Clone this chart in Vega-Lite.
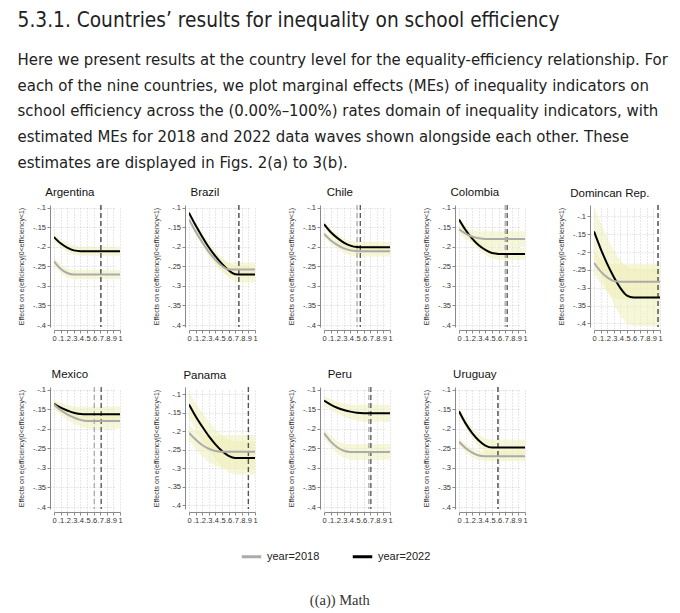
{
  "$schema": "https://vega.github.io/schema/vega-lite/v6.json",
  "background": "white",
  "padding": {"left": 17, "top": 10, "right": 5, "bottom": 5},
  "title": {
    "text": "5.3.1. Countries’ results for inequality on school efficiency",
    "subtitle": [
      "Here we present results at the country level for the equality-efficiency relationship. For",
      "each of the nine countries, we plot marginal effects (MEs) of inequality indicators on",
      "school efficiency across the (0.00%–100%) rates domain of inequality indicators, with",
      "estimated MEs for 2018 and 2022 data waves shown alongside each other. These",
      "estimates are displayed in Figs. 2(a) to 3(b)."
    ],
    "anchor": "start",
    "frame": "bounds",
    "font": "Liberation Sans Narrow, DejaVu Sans Condensed, sans-serif",
    "fontSize": 20.7,
    "fontWeight": "normal",
    "color": "#222222",
    "subtitleFont": "Liberation Sans Narrow, DejaVu Sans Condensed, sans-serif",
    "subtitleFontSize": 16.6,
    "subtitleColor": "#222222",
    "subtitleLineHeight": 25.7,
    "subtitlePadding": 20,
    "offset": 15
  },
  "datasets": {
    "curves": [
      {"c":"Argentina","yr":"year=2022","x":0,"y":-0.175,"lo":-0.185,"hi":-0.165},
      {"c":"Argentina","yr":"year=2022","x":0.1,"y":-0.191,"lo":-0.2015,"hi":-0.1805},
      {"c":"Argentina","yr":"year=2022","x":0.2,"y":-0.202,"lo":-0.213,"hi":-0.191},
      {"c":"Argentina","yr":"year=2022","x":0.3,"y":-0.209,"lo":-0.2205,"hi":-0.1975},
      {"c":"Argentina","yr":"year=2022","x":0.4,"y":-0.211,"lo":-0.223,"hi":-0.199},
      {"c":"Argentina","yr":"year=2022","x":0.5,"y":-0.211,"lo":-0.223,"hi":-0.199},
      {"c":"Argentina","yr":"year=2022","x":0.6,"y":-0.211,"lo":-0.223,"hi":-0.199},
      {"c":"Argentina","yr":"year=2022","x":0.7,"y":-0.211,"lo":-0.223,"hi":-0.199},
      {"c":"Argentina","yr":"year=2022","x":0.8,"y":-0.211,"lo":-0.223,"hi":-0.199},
      {"c":"Argentina","yr":"year=2022","x":0.9,"y":-0.211,"lo":-0.223,"hi":-0.199},
      {"c":"Argentina","yr":"year=2022","x":1,"y":-0.211,"lo":-0.223,"hi":-0.199},
      {"c":"Argentina","yr":"year=2018","x":0,"y":-0.237,"lo":-0.247,"hi":-0.227},
      {"c":"Argentina","yr":"year=2018","x":0.1,"y":-0.256,"lo":-0.267,"hi":-0.245},
      {"c":"Argentina","yr":"year=2018","x":0.2,"y":-0.267,"lo":-0.278,"hi":-0.256},
      {"c":"Argentina","yr":"year=2018","x":0.3,"y":-0.271,"lo":-0.283,"hi":-0.259},
      {"c":"Argentina","yr":"year=2018","x":0.4,"y":-0.271,"lo":-0.283,"hi":-0.259},
      {"c":"Argentina","yr":"year=2018","x":0.5,"y":-0.271,"lo":-0.283,"hi":-0.259},
      {"c":"Argentina","yr":"year=2018","x":0.6,"y":-0.271,"lo":-0.283,"hi":-0.259},
      {"c":"Argentina","yr":"year=2018","x":0.7,"y":-0.271,"lo":-0.283,"hi":-0.259},
      {"c":"Argentina","yr":"year=2018","x":0.8,"y":-0.271,"lo":-0.283,"hi":-0.259},
      {"c":"Argentina","yr":"year=2018","x":0.9,"y":-0.271,"lo":-0.283,"hi":-0.259},
      {"c":"Argentina","yr":"year=2018","x":1,"y":-0.271,"lo":-0.283,"hi":-0.259},

      {"c":"Brazil","yr":"year=2022","x":0,"y":-0.113,"lo":-0.119,"hi":-0.107},
      {"c":"Brazil","yr":"year=2022","x":0.1,"y":-0.145,"lo":-0.153,"hi":-0.137},
      {"c":"Brazil","yr":"year=2022","x":0.2,"y":-0.174,"lo":-0.184,"hi":-0.164},
      {"c":"Brazil","yr":"year=2022","x":0.3,"y":-0.201,"lo":-0.213,"hi":-0.189},
      {"c":"Brazil","yr":"year=2022","x":0.4,"y":-0.224,"lo":-0.238,"hi":-0.21},
      {"c":"Brazil","yr":"year=2022","x":0.5,"y":-0.244,"lo":-0.26,"hi":-0.228},
      {"c":"Brazil","yr":"year=2022","x":0.6,"y":-0.26,"lo":-0.278,"hi":-0.242},
      {"c":"Brazil","yr":"year=2022","x":0.7,"y":-0.27,"lo":-0.29,"hi":-0.25},
      {"c":"Brazil","yr":"year=2022","x":0.8,"y":-0.271,"lo":-0.291,"hi":-0.251},
      {"c":"Brazil","yr":"year=2022","x":0.9,"y":-0.271,"lo":-0.291,"hi":-0.251},
      {"c":"Brazil","yr":"year=2022","x":1,"y":-0.271,"lo":-0.291,"hi":-0.251},
      {"c":"Brazil","yr":"year=2018","x":0,"y":-0.13,"lo":-0.136,"hi":-0.124},
      {"c":"Brazil","yr":"year=2018","x":0.1,"y":-0.161,"lo":-0.169,"hi":-0.153},
      {"c":"Brazil","yr":"year=2018","x":0.2,"y":-0.188,"lo":-0.198,"hi":-0.178},
      {"c":"Brazil","yr":"year=2018","x":0.3,"y":-0.213,"lo":-0.225,"hi":-0.201},
      {"c":"Brazil","yr":"year=2018","x":0.4,"y":-0.233,"lo":-0.247,"hi":-0.219},
      {"c":"Brazil","yr":"year=2018","x":0.5,"y":-0.249,"lo":-0.265,"hi":-0.233},
      {"c":"Brazil","yr":"year=2018","x":0.6,"y":-0.258,"lo":-0.276,"hi":-0.24},
      {"c":"Brazil","yr":"year=2018","x":0.7,"y":-0.258,"lo":-0.276,"hi":-0.24},
      {"c":"Brazil","yr":"year=2018","x":0.8,"y":-0.258,"lo":-0.276,"hi":-0.24},
      {"c":"Brazil","yr":"year=2018","x":0.9,"y":-0.258,"lo":-0.276,"hi":-0.24},
      {"c":"Brazil","yr":"year=2018","x":1,"y":-0.258,"lo":-0.276,"hi":-0.24},

      {"c":"Chile","yr":"year=2022","x":0,"y":-0.142,"lo":-0.15,"hi":-0.134},
      {"c":"Chile","yr":"year=2022","x":0.1,"y":-0.162,"lo":-0.171,"hi":-0.153},
      {"c":"Chile","yr":"year=2022","x":0.2,"y":-0.177,"lo":-0.187,"hi":-0.167},
      {"c":"Chile","yr":"year=2022","x":0.3,"y":-0.189,"lo":-0.2,"hi":-0.178},
      {"c":"Chile","yr":"year=2022","x":0.4,"y":-0.197,"lo":-0.209,"hi":-0.185},
      {"c":"Chile","yr":"year=2022","x":0.5,"y":-0.2005,"lo":-0.214,"hi":-0.187},
      {"c":"Chile","yr":"year=2022","x":0.6,"y":-0.201,"lo":-0.215,"hi":-0.187},
      {"c":"Chile","yr":"year=2022","x":0.7,"y":-0.201,"lo":-0.215,"hi":-0.187},
      {"c":"Chile","yr":"year=2022","x":0.8,"y":-0.201,"lo":-0.215,"hi":-0.187},
      {"c":"Chile","yr":"year=2022","x":0.9,"y":-0.201,"lo":-0.215,"hi":-0.187},
      {"c":"Chile","yr":"year=2022","x":1,"y":-0.201,"lo":-0.215,"hi":-0.187},
      {"c":"Chile","yr":"year=2018","x":0,"y":-0.167,"lo":-0.175,"hi":-0.159},
      {"c":"Chile","yr":"year=2018","x":0.1,"y":-0.183,"lo":-0.192,"hi":-0.174},
      {"c":"Chile","yr":"year=2018","x":0.2,"y":-0.195,"lo":-0.205,"hi":-0.185},
      {"c":"Chile","yr":"year=2018","x":0.3,"y":-0.204,"lo":-0.216,"hi":-0.192},
      {"c":"Chile","yr":"year=2018","x":0.4,"y":-0.209,"lo":-0.222,"hi":-0.196},
      {"c":"Chile","yr":"year=2018","x":0.5,"y":-0.211,"lo":-0.225,"hi":-0.197},
      {"c":"Chile","yr":"year=2018","x":0.6,"y":-0.211,"lo":-0.225,"hi":-0.197},
      {"c":"Chile","yr":"year=2018","x":0.7,"y":-0.211,"lo":-0.225,"hi":-0.197},
      {"c":"Chile","yr":"year=2018","x":0.8,"y":-0.211,"lo":-0.225,"hi":-0.197},
      {"c":"Chile","yr":"year=2018","x":0.9,"y":-0.211,"lo":-0.225,"hi":-0.197},
      {"c":"Chile","yr":"year=2018","x":1,"y":-0.211,"lo":-0.225,"hi":-0.197},

      {"c":"Colombia","yr":"year=2022","x":0,"y":-0.13,"lo":-0.138,"hi":-0.122},
      {"c":"Colombia","yr":"year=2022","x":0.1,"y":-0.157,"lo":-0.166,"hi":-0.148},
      {"c":"Colombia","yr":"year=2022","x":0.2,"y":-0.179,"lo":-0.189,"hi":-0.169},
      {"c":"Colombia","yr":"year=2022","x":0.3,"y":-0.196,"lo":-0.208,"hi":-0.185},
      {"c":"Colombia","yr":"year=2022","x":0.4,"y":-0.208,"lo":-0.221,"hi":-0.195},
      {"c":"Colombia","yr":"year=2022","x":0.5,"y":-0.216,"lo":-0.23,"hi":-0.202},
      {"c":"Colombia","yr":"year=2022","x":0.6,"y":-0.218,"lo":-0.233,"hi":-0.203},
      {"c":"Colombia","yr":"year=2022","x":0.7,"y":-0.218,"lo":-0.233,"hi":-0.203},
      {"c":"Colombia","yr":"year=2022","x":0.8,"y":-0.218,"lo":-0.233,"hi":-0.203},
      {"c":"Colombia","yr":"year=2022","x":0.9,"y":-0.218,"lo":-0.233,"hi":-0.203},
      {"c":"Colombia","yr":"year=2022","x":1,"y":-0.218,"lo":-0.233,"hi":-0.203},
      {"c":"Colombia","yr":"year=2018","x":0,"y":-0.155,"lo":-0.165,"hi":-0.145},
      {"c":"Colombia","yr":"year=2018","x":0.1,"y":-0.166,"lo":-0.179,"hi":-0.154},
      {"c":"Colombia","yr":"year=2018","x":0.2,"y":-0.174,"lo":-0.189,"hi":-0.159},
      {"c":"Colombia","yr":"year=2018","x":0.3,"y":-0.178,"lo":-0.196,"hi":-0.161},
      {"c":"Colombia","yr":"year=2018","x":0.4,"y":-0.18,"lo":-0.2,"hi":-0.16},
      {"c":"Colombia","yr":"year=2018","x":0.5,"y":-0.18,"lo":-0.2,"hi":-0.16},
      {"c":"Colombia","yr":"year=2018","x":0.6,"y":-0.18,"lo":-0.2,"hi":-0.16},
      {"c":"Colombia","yr":"year=2018","x":0.7,"y":-0.18,"lo":-0.2,"hi":-0.16},
      {"c":"Colombia","yr":"year=2018","x":0.8,"y":-0.18,"lo":-0.2,"hi":-0.16},
      {"c":"Colombia","yr":"year=2018","x":0.9,"y":-0.18,"lo":-0.2,"hi":-0.16},
      {"c":"Colombia","yr":"year=2018","x":1,"y":-0.18,"lo":-0.2,"hi":-0.16},

      {"c":"Dominican Rep.","yr":"year=2022","x":0,"y":-0.142,"lo":-0.212,"hi":-0.072},
      {"c":"Dominican Rep.","yr":"year=2022","x":0.1,"y":-0.19,"lo":-0.262,"hi":-0.118},
      {"c":"Dominican Rep.","yr":"year=2022","x":0.2,"y":-0.233,"lo":-0.307,"hi":-0.159},
      {"c":"Dominican Rep.","yr":"year=2022","x":0.3,"y":-0.27,"lo":-0.346,"hi":-0.195},
      {"c":"Dominican Rep.","yr":"year=2022","x":0.4,"y":-0.301,"lo":-0.378,"hi":-0.224},
      {"c":"Dominican Rep.","yr":"year=2022","x":0.5,"y":-0.322,"lo":-0.401,"hi":-0.243},
      {"c":"Dominican Rep.","yr":"year=2022","x":0.6,"y":-0.327,"lo":-0.407,"hi":-0.247},
      {"c":"Dominican Rep.","yr":"year=2022","x":0.7,"y":-0.327,"lo":-0.407,"hi":-0.247},
      {"c":"Dominican Rep.","yr":"year=2022","x":0.8,"y":-0.327,"lo":-0.407,"hi":-0.247},
      {"c":"Dominican Rep.","yr":"year=2022","x":0.9,"y":-0.327,"lo":-0.407,"hi":-0.247},
      {"c":"Dominican Rep.","yr":"year=2022","x":1,"y":-0.327,"lo":-0.407,"hi":-0.247},
      {"c":"Dominican Rep.","yr":"year=2018","x":0,"y":-0.23,"lo":-0.26,"hi":-0.2},
      {"c":"Dominican Rep.","yr":"year=2018","x":0.1,"y":-0.254,"lo":-0.289,"hi":-0.219},
      {"c":"Dominican Rep.","yr":"year=2018","x":0.2,"y":-0.271,"lo":-0.312,"hi":-0.231},
      {"c":"Dominican Rep.","yr":"year=2018","x":0.3,"y":-0.281,"lo":-0.327,"hi":-0.235},
      {"c":"Dominican Rep.","yr":"year=2018","x":0.4,"y":-0.283,"lo":-0.333,"hi":-0.233},
      {"c":"Dominican Rep.","yr":"year=2018","x":0.5,"y":-0.283,"lo":-0.333,"hi":-0.233},
      {"c":"Dominican Rep.","yr":"year=2018","x":0.6,"y":-0.283,"lo":-0.333,"hi":-0.233},
      {"c":"Dominican Rep.","yr":"year=2018","x":0.7,"y":-0.283,"lo":-0.333,"hi":-0.233},
      {"c":"Dominican Rep.","yr":"year=2018","x":0.8,"y":-0.283,"lo":-0.333,"hi":-0.233},
      {"c":"Dominican Rep.","yr":"year=2018","x":0.9,"y":-0.283,"lo":-0.333,"hi":-0.233},
      {"c":"Dominican Rep.","yr":"year=2018","x":1,"y":-0.283,"lo":-0.333,"hi":-0.233},

      {"c":"Mexico","yr":"year=2022","x":0,"y":-0.136,"lo":-0.146,"hi":-0.126},
      {"c":"Mexico","yr":"year=2022","x":0.1,"y":-0.146,"lo":-0.158,"hi":-0.134},
      {"c":"Mexico","yr":"year=2022","x":0.2,"y":-0.153,"lo":-0.167,"hi":-0.139},
      {"c":"Mexico","yr":"year=2022","x":0.3,"y":-0.159,"lo":-0.175,"hi":-0.143},
      {"c":"Mexico","yr":"year=2022","x":0.4,"y":-0.162,"lo":-0.18,"hi":-0.144},
      {"c":"Mexico","yr":"year=2022","x":0.5,"y":-0.163,"lo":-0.183,"hi":-0.143},
      {"c":"Mexico","yr":"year=2022","x":0.6,"y":-0.163,"lo":-0.183,"hi":-0.143},
      {"c":"Mexico","yr":"year=2022","x":0.7,"y":-0.163,"lo":-0.183,"hi":-0.143},
      {"c":"Mexico","yr":"year=2022","x":0.8,"y":-0.163,"lo":-0.183,"hi":-0.143},
      {"c":"Mexico","yr":"year=2022","x":0.9,"y":-0.163,"lo":-0.183,"hi":-0.143},
      {"c":"Mexico","yr":"year=2022","x":1,"y":-0.163,"lo":-0.183,"hi":-0.143},
      {"c":"Mexico","yr":"year=2018","x":0,"y":-0.138,"lo":-0.148,"hi":-0.128},
      {"c":"Mexico","yr":"year=2018","x":0.1,"y":-0.152,"lo":-0.164,"hi":-0.14},
      {"c":"Mexico","yr":"year=2018","x":0.2,"y":-0.163,"lo":-0.177,"hi":-0.149},
      {"c":"Mexico","yr":"year=2018","x":0.3,"y":-0.171,"lo":-0.187,"hi":-0.156},
      {"c":"Mexico","yr":"year=2018","x":0.4,"y":-0.177,"lo":-0.194,"hi":-0.16},
      {"c":"Mexico","yr":"year=2018","x":0.5,"y":-0.18,"lo":-0.199,"hi":-0.161},
      {"c":"Mexico","yr":"year=2018","x":0.6,"y":-0.18,"lo":-0.2,"hi":-0.16},
      {"c":"Mexico","yr":"year=2018","x":0.7,"y":-0.18,"lo":-0.2,"hi":-0.16},
      {"c":"Mexico","yr":"year=2018","x":0.8,"y":-0.18,"lo":-0.2,"hi":-0.16},
      {"c":"Mexico","yr":"year=2018","x":0.9,"y":-0.18,"lo":-0.2,"hi":-0.16},
      {"c":"Mexico","yr":"year=2018","x":1,"y":-0.18,"lo":-0.2,"hi":-0.16},

      {"c":"Panama","yr":"year=2022","x":0,"y":-0.127,"lo":-0.162,"hi":-0.092},
      {"c":"Panama","yr":"year=2022","x":0.1,"y":-0.159,"lo":-0.195,"hi":-0.123},
      {"c":"Panama","yr":"year=2022","x":0.2,"y":-0.187,"lo":-0.225,"hi":-0.149},
      {"c":"Panama","yr":"year=2022","x":0.3,"y":-0.213,"lo":-0.252,"hi":-0.174},
      {"c":"Panama","yr":"year=2022","x":0.4,"y":-0.235,"lo":-0.276,"hi":-0.194},
      {"c":"Panama","yr":"year=2022","x":0.5,"y":-0.253,"lo":-0.295,"hi":-0.211},
      {"c":"Panama","yr":"year=2022","x":0.6,"y":-0.266,"lo":-0.31,"hi":-0.222},
      {"c":"Panama","yr":"year=2022","x":0.7,"y":-0.272,"lo":-0.317,"hi":-0.227},
      {"c":"Panama","yr":"year=2022","x":0.8,"y":-0.272,"lo":-0.317,"hi":-0.227},
      {"c":"Panama","yr":"year=2022","x":0.9,"y":-0.272,"lo":-0.317,"hi":-0.227},
      {"c":"Panama","yr":"year=2022","x":1,"y":-0.272,"lo":-0.317,"hi":-0.227},
      {"c":"Panama","yr":"year=2018","x":0,"y":-0.204,"lo":-0.224,"hi":-0.184},
      {"c":"Panama","yr":"year=2018","x":0.1,"y":-0.222,"lo":-0.247,"hi":-0.197},
      {"c":"Panama","yr":"year=2018","x":0.2,"y":-0.237,"lo":-0.267,"hi":-0.207},
      {"c":"Panama","yr":"year=2018","x":0.3,"y":-0.247,"lo":-0.282,"hi":-0.212},
      {"c":"Panama","yr":"year=2018","x":0.4,"y":-0.253,"lo":-0.293,"hi":-0.213},
      {"c":"Panama","yr":"year=2018","x":0.5,"y":-0.255,"lo":-0.3,"hi":-0.21},
      {"c":"Panama","yr":"year=2018","x":0.6,"y":-0.255,"lo":-0.3,"hi":-0.21},
      {"c":"Panama","yr":"year=2018","x":0.7,"y":-0.255,"lo":-0.3,"hi":-0.21},
      {"c":"Panama","yr":"year=2018","x":0.8,"y":-0.255,"lo":-0.3,"hi":-0.21},
      {"c":"Panama","yr":"year=2018","x":0.9,"y":-0.255,"lo":-0.3,"hi":-0.21},
      {"c":"Panama","yr":"year=2018","x":1,"y":-0.255,"lo":-0.3,"hi":-0.21},

      {"c":"Peru","yr":"year=2022","x":0,"y":-0.128,"lo":-0.14,"hi":-0.116},
      {"c":"Peru","yr":"year=2022","x":0.1,"y":-0.138,"lo":-0.152,"hi":-0.124},
      {"c":"Peru","yr":"year=2022","x":0.2,"y":-0.146,"lo":-0.161,"hi":-0.131},
      {"c":"Peru","yr":"year=2022","x":0.3,"y":-0.152,"lo":-0.169,"hi":-0.135},
      {"c":"Peru","yr":"year=2022","x":0.4,"y":-0.156,"lo":-0.175,"hi":-0.137},
      {"c":"Peru","yr":"year=2022","x":0.5,"y":-0.159,"lo":-0.179,"hi":-0.139},
      {"c":"Peru","yr":"year=2022","x":0.6,"y":-0.16,"lo":-0.182,"hi":-0.138},
      {"c":"Peru","yr":"year=2022","x":0.7,"y":-0.16,"lo":-0.182,"hi":-0.138},
      {"c":"Peru","yr":"year=2022","x":0.8,"y":-0.16,"lo":-0.182,"hi":-0.138},
      {"c":"Peru","yr":"year=2022","x":0.9,"y":-0.16,"lo":-0.182,"hi":-0.138},
      {"c":"Peru","yr":"year=2022","x":1,"y":-0.16,"lo":-0.182,"hi":-0.138},
      {"c":"Peru","yr":"year=2018","x":0,"y":-0.211,"lo":-0.223,"hi":-0.199},
      {"c":"Peru","yr":"year=2018","x":0.1,"y":-0.232,"lo":-0.246,"hi":-0.218},
      {"c":"Peru","yr":"year=2018","x":0.2,"y":-0.247,"lo":-0.263,"hi":-0.231},
      {"c":"Peru","yr":"year=2018","x":0.3,"y":-0.256,"lo":-0.274,"hi":-0.238},
      {"c":"Peru","yr":"year=2018","x":0.4,"y":-0.259,"lo":-0.279,"hi":-0.239},
      {"c":"Peru","yr":"year=2018","x":0.5,"y":-0.259,"lo":-0.279,"hi":-0.239},
      {"c":"Peru","yr":"year=2018","x":0.6,"y":-0.259,"lo":-0.279,"hi":-0.239},
      {"c":"Peru","yr":"year=2018","x":0.7,"y":-0.259,"lo":-0.279,"hi":-0.239},
      {"c":"Peru","yr":"year=2018","x":0.8,"y":-0.259,"lo":-0.279,"hi":-0.239},
      {"c":"Peru","yr":"year=2018","x":0.9,"y":-0.259,"lo":-0.279,"hi":-0.239},
      {"c":"Peru","yr":"year=2018","x":1,"y":-0.259,"lo":-0.279,"hi":-0.239},

      {"c":"Uruguay","yr":"year=2022","x":0,"y":-0.155,"lo":-0.165,"hi":-0.145},
      {"c":"Uruguay","yr":"year=2022","x":0.1,"y":-0.186,"lo":-0.198,"hi":-0.174},
      {"c":"Uruguay","yr":"year=2022","x":0.2,"y":-0.211,"lo":-0.225,"hi":-0.197},
      {"c":"Uruguay","yr":"year=2022","x":0.3,"y":-0.23,"lo":-0.246,"hi":-0.214},
      {"c":"Uruguay","yr":"year=2022","x":0.4,"y":-0.243,"lo":-0.261,"hi":-0.225},
      {"c":"Uruguay","yr":"year=2022","x":0.5,"y":-0.248,"lo":-0.268,"hi":-0.228},
      {"c":"Uruguay","yr":"year=2022","x":0.6,"y":-0.248,"lo":-0.268,"hi":-0.228},
      {"c":"Uruguay","yr":"year=2022","x":0.7,"y":-0.248,"lo":-0.268,"hi":-0.228},
      {"c":"Uruguay","yr":"year=2022","x":0.8,"y":-0.248,"lo":-0.268,"hi":-0.228},
      {"c":"Uruguay","yr":"year=2022","x":0.9,"y":-0.248,"lo":-0.268,"hi":-0.228},
      {"c":"Uruguay","yr":"year=2022","x":1,"y":-0.248,"lo":-0.268,"hi":-0.228},
      {"c":"Uruguay","yr":"year=2018","x":0,"y":-0.233,"lo":-0.243,"hi":-0.223},
      {"c":"Uruguay","yr":"year=2018","x":0.1,"y":-0.249,"lo":-0.26,"hi":-0.238},
      {"c":"Uruguay","yr":"year=2018","x":0.2,"y":-0.261,"lo":-0.273,"hi":-0.25},
      {"c":"Uruguay","yr":"year=2018","x":0.3,"y":-0.268,"lo":-0.28,"hi":-0.256},
      {"c":"Uruguay","yr":"year=2018","x":0.4,"y":-0.27,"lo":-0.283,"hi":-0.257},
      {"c":"Uruguay","yr":"year=2018","x":0.5,"y":-0.27,"lo":-0.283,"hi":-0.257},
      {"c":"Uruguay","yr":"year=2018","x":0.6,"y":-0.27,"lo":-0.283,"hi":-0.257},
      {"c":"Uruguay","yr":"year=2018","x":0.7,"y":-0.27,"lo":-0.283,"hi":-0.257},
      {"c":"Uruguay","yr":"year=2018","x":0.8,"y":-0.27,"lo":-0.283,"hi":-0.257},
      {"c":"Uruguay","yr":"year=2018","x":0.9,"y":-0.27,"lo":-0.283,"hi":-0.257},
      {"c":"Uruguay","yr":"year=2018","x":1,"y":-0.27,"lo":-0.283,"hi":-0.257}
    ],
    "cuts": [
      {"c":"Argentina","yr":"year=2018","x":0.71},
      {"c":"Argentina","yr":"year=2022","x":0.71},
      {"c":"Brazil","yr":"year=2018","x":0.755},
      {"c":"Brazil","yr":"year=2022","x":0.755},
      {"c":"Chile","yr":"year=2018","x":0.5},
      {"c":"Chile","yr":"year=2022","x":0.55},
      {"c":"Colombia","yr":"year=2018","x":0.7},
      {"c":"Colombia","yr":"year=2022","x":0.73},
      {"c":"Dominican Rep.","yr":"year=2018","x":0.97},
      {"c":"Dominican Rep.","yr":"year=2022","x":0.97},
      {"c":"Mexico","yr":"year=2018","x":0.61},
      {"c":"Mexico","yr":"year=2022","x":0.715},
      {"c":"Panama","yr":"year=2018","x":0.9},
      {"c":"Panama","yr":"year=2022","x":0.9},
      {"c":"Peru","yr":"year=2018","x":0.68},
      {"c":"Peru","yr":"year=2022","x":0.71},
      {"c":"Uruguay","yr":"year=2018","x":0.59},
      {"c":"Uruguay","yr":"year=2022","x":0.59}
    ]
  },
  "resolve": {"scale": {"color": "independent"}},
  "vconcat": [
    {
      "title": {"text": "((a)) Math", "orient": "bottom", "anchor": "middle", "frame": "bounds", "font": "Liberation Serif", "fontSize": 14.5, "fontWeight": "normal", "color": "#333333", "offset": 31},
      "spacing": 27,
      "resolve": {"scale": {"x": "independent", "y": "independent", "color": "shared"}},
      "vconcat": [
        {
          "spacing": 29,
          "resolve": {"scale": {"x": "independent", "y": "independent", "color": "shared"}},
          "hconcat": [
            {
              "title": "Argentina", "width": 66, "height": 122,
              "data": {"name": "curves"}, "transform": [{"filter": "datum.c == 'Argentina'"}],
              "encoding": {"x": {"field": "x", "type": "quantitative", "scale": {"domain": [0, 1], "nice": false}, "title": null}},
              "layer": [
                {"mark": {"type": "area", "fill": "#efefb8", "opacity": 0.55, "clip": true},
                 "encoding": {"y": {"field": "lo", "type": "quantitative", "scale": {"domain": [-0.405, -0.093], "nice": false, "zero": false}, "title": "Effects on e(efficiency|0<efficiency<1)"}, "y2": {"field": "hi"}, "detail": {"field": "yr"}}},
                {"data": {"name": "cuts"}, "transform": [{"filter": "datum.c == 'Argentina'"}],
                 "mark": {"type": "rule", "strokeDash": [5, 3], "strokeWidth": 1.3},
                 "encoding": {"stroke": {"condition": {"test": "datum.yr == 'year=2018'", "value": "#aaaaaa"}, "value": "#555555"}}},
                {"mark": {"type": "line", "strokeWidth": 2, "interpolate": "monotone", "clip": true},
                 "encoding": {"y": {"field": "y", "type": "quantitative", "scale": {"domain": [-0.405, -0.093], "nice": false, "zero": false}, "title": "Effects on e(efficiency|0<efficiency<1)"},
                   "color": {"field": "yr", "type": "nominal", "title": null, "scale": {"domain": ["year=2018", "year=2022"], "range": ["#ababab", "#000000"]}}}}
              ]
            },
            {
              "title": "Brazil", "width": 66, "height": 122,
              "data": {"name": "curves"}, "transform": [{"filter": "datum.c == 'Brazil'"}],
              "encoding": {"x": {"field": "x", "type": "quantitative", "scale": {"domain": [0, 1], "nice": false}, "title": null}},
              "layer": [
                {"mark": {"type": "area", "fill": "#efefb8", "opacity": 0.55, "clip": true},
                 "encoding": {"y": {"field": "lo", "type": "quantitative", "scale": {"domain": [-0.405, -0.093], "nice": false, "zero": false}, "title": "Effects on e(efficiency|0<efficiency<1)"}, "y2": {"field": "hi"}, "detail": {"field": "yr"}}},
                {"data": {"name": "cuts"}, "transform": [{"filter": "datum.c == 'Brazil'"}],
                 "mark": {"type": "rule", "strokeDash": [5, 3], "strokeWidth": 1.3},
                 "encoding": {"stroke": {"condition": {"test": "datum.yr == 'year=2018'", "value": "#aaaaaa"}, "value": "#555555"}}},
                {"mark": {"type": "line", "strokeWidth": 2, "interpolate": "monotone", "clip": true},
                 "encoding": {"y": {"field": "y", "type": "quantitative", "scale": {"domain": [-0.405, -0.093], "nice": false, "zero": false}, "title": "Effects on e(efficiency|0<efficiency<1)"},
                   "color": {"field": "yr", "type": "nominal", "title": null, "scale": {"domain": ["year=2018", "year=2022"], "range": ["#ababab", "#000000"]}}}}
              ]
            },
            {
              "title": "Chile", "width": 66, "height": 122,
              "data": {"name": "curves"}, "transform": [{"filter": "datum.c == 'Chile'"}],
              "encoding": {"x": {"field": "x", "type": "quantitative", "scale": {"domain": [0, 1], "nice": false}, "title": null}},
              "layer": [
                {"mark": {"type": "area", "fill": "#efefb8", "opacity": 0.55, "clip": true},
                 "encoding": {"y": {"field": "lo", "type": "quantitative", "scale": {"domain": [-0.405, -0.093], "nice": false, "zero": false}, "title": "Effects on e(efficiency|0<efficiency<1)"}, "y2": {"field": "hi"}, "detail": {"field": "yr"}}},
                {"data": {"name": "cuts"}, "transform": [{"filter": "datum.c == 'Chile'"}],
                 "mark": {"type": "rule", "strokeDash": [5, 3], "strokeWidth": 1.3},
                 "encoding": {"stroke": {"condition": {"test": "datum.yr == 'year=2018'", "value": "#aaaaaa"}, "value": "#555555"}}},
                {"mark": {"type": "line", "strokeWidth": 2, "interpolate": "monotone", "clip": true},
                 "encoding": {"y": {"field": "y", "type": "quantitative", "scale": {"domain": [-0.405, -0.093], "nice": false, "zero": false}, "title": "Effects on e(efficiency|0<efficiency<1)"},
                   "color": {"field": "yr", "type": "nominal", "title": null, "scale": {"domain": ["year=2018", "year=2022"], "range": ["#ababab", "#000000"]}}}}
              ]
            },
            {
              "title": "Colombia", "width": 66, "height": 122,
              "data": {"name": "curves"}, "transform": [{"filter": "datum.c == 'Colombia'"}],
              "encoding": {"x": {"field": "x", "type": "quantitative", "scale": {"domain": [0, 1], "nice": false}, "title": null}},
              "layer": [
                {"mark": {"type": "area", "fill": "#efefb8", "opacity": 0.55, "clip": true},
                 "encoding": {"y": {"field": "lo", "type": "quantitative", "scale": {"domain": [-0.405, -0.093], "nice": false, "zero": false}, "title": "Effects on e(efficiency|0<efficiency<1)"}, "y2": {"field": "hi"}, "detail": {"field": "yr"}}},
                {"data": {"name": "cuts"}, "transform": [{"filter": "datum.c == 'Colombia'"}],
                 "mark": {"type": "rule", "strokeDash": [5, 3], "strokeWidth": 1.3},
                 "encoding": {"stroke": {"condition": {"test": "datum.yr == 'year=2018'", "value": "#aaaaaa"}, "value": "#555555"}}},
                {"mark": {"type": "line", "strokeWidth": 2, "interpolate": "monotone", "clip": true},
                 "encoding": {"y": {"field": "y", "type": "quantitative", "scale": {"domain": [-0.405, -0.093], "nice": false, "zero": false}, "title": "Effects on e(efficiency|0<efficiency<1)"},
                   "color": {"field": "yr", "type": "nominal", "title": null, "scale": {"domain": ["year=2018", "year=2022"], "range": ["#ababab", "#000000"]}}}}
              ]
            },
            {
              "title": "Domincan Rep.", "width": 66, "height": 122,
              "data": {"name": "curves"}, "transform": [{"filter": "datum.c == 'Dominican Rep.'"}],
              "encoding": {"x": {"field": "x", "type": "quantitative", "scale": {"domain": [0, 1], "nice": false}, "title": null}},
              "layer": [
                {"mark": {"type": "area", "fill": "#efefb8", "opacity": 0.55, "clip": true},
                 "encoding": {"y": {"field": "lo", "type": "quantitative", "scale": {"domain": [-0.41, -0.068], "nice": false, "zero": false}, "title": "Effects on e(efficiency|0<efficiency<1)"}, "y2": {"field": "hi"}, "detail": {"field": "yr"}}},
                {"data": {"name": "cuts"}, "transform": [{"filter": "datum.c == 'Dominican Rep.'"}],
                 "mark": {"type": "rule", "strokeDash": [5, 3], "strokeWidth": 1.3},
                 "encoding": {"stroke": {"condition": {"test": "datum.yr == 'year=2018'", "value": "#aaaaaa"}, "value": "#555555"}}},
                {"mark": {"type": "line", "strokeWidth": 2, "interpolate": "monotone", "clip": true},
                 "encoding": {"y": {"field": "y", "type": "quantitative", "scale": {"domain": [-0.41, -0.068], "nice": false, "zero": false}, "title": "Effects on e(efficiency|0<efficiency<1)"},
                   "color": {"field": "yr", "type": "nominal", "title": null, "scale": {"domain": ["year=2018", "year=2022"], "range": ["#ababab", "#000000"]}}}}
              ]
            }
          ]
        },
        {
          "spacing": 29,
          "resolve": {"scale": {"x": "independent", "y": "independent", "color": "shared"}},
          "hconcat": [
            {
              "title": "Mexico", "width": 66, "height": 122,
              "data": {"name": "curves"}, "transform": [{"filter": "datum.c == 'Mexico'"}],
              "encoding": {"x": {"field": "x", "type": "quantitative", "scale": {"domain": [0, 1], "nice": false}, "title": null}},
              "layer": [
                {"mark": {"type": "area", "fill": "#efefb8", "opacity": 0.55, "clip": true},
                 "encoding": {"y": {"field": "lo", "type": "quantitative", "scale": {"domain": [-0.405, -0.093], "nice": false, "zero": false}, "title": "Effects on e(efficiency|0<efficiency<1)"}, "y2": {"field": "hi"}, "detail": {"field": "yr"}}},
                {"data": {"name": "cuts"}, "transform": [{"filter": "datum.c == 'Mexico'"}],
                 "mark": {"type": "rule", "strokeDash": [5, 3], "strokeWidth": 1.3},
                 "encoding": {"stroke": {"condition": {"test": "datum.yr == 'year=2018'", "value": "#aaaaaa"}, "value": "#555555"}}},
                {"mark": {"type": "line", "strokeWidth": 2, "interpolate": "monotone", "clip": true},
                 "encoding": {"y": {"field": "y", "type": "quantitative", "scale": {"domain": [-0.405, -0.093], "nice": false, "zero": false}, "title": "Effects on e(efficiency|0<efficiency<1)"},
                   "color": {"field": "yr", "type": "nominal", "title": null, "scale": {"domain": ["year=2018", "year=2022"], "range": ["#ababab", "#000000"]}}}}
              ]
            },
            {
              "title": "Panama", "width": 66, "height": 122,
              "data": {"name": "curves"}, "transform": [{"filter": "datum.c == 'Panama'"}],
              "encoding": {"x": {"field": "x", "type": "quantitative", "scale": {"domain": [0, 1], "nice": false}, "title": null}},
              "layer": [
                {"mark": {"type": "area", "fill": "#efefb8", "opacity": 0.55, "clip": true},
                 "encoding": {"y": {"field": "lo", "type": "quantitative", "scale": {"domain": [-0.41, -0.08], "nice": false, "zero": false}, "title": "Effects on e(efficiency|0<efficiency<1)"}, "y2": {"field": "hi"}, "detail": {"field": "yr"}}},
                {"data": {"name": "cuts"}, "transform": [{"filter": "datum.c == 'Panama'"}],
                 "mark": {"type": "rule", "strokeDash": [5, 3], "strokeWidth": 1.3},
                 "encoding": {"stroke": {"condition": {"test": "datum.yr == 'year=2018'", "value": "#aaaaaa"}, "value": "#555555"}}},
                {"mark": {"type": "line", "strokeWidth": 2, "interpolate": "monotone", "clip": true},
                 "encoding": {"y": {"field": "y", "type": "quantitative", "scale": {"domain": [-0.41, -0.08], "nice": false, "zero": false}, "title": "Effects on e(efficiency|0<efficiency<1)"},
                   "color": {"field": "yr", "type": "nominal", "title": null, "scale": {"domain": ["year=2018", "year=2022"], "range": ["#ababab", "#000000"]}}}}
              ]
            },
            {
              "title": "Peru", "width": 66, "height": 122,
              "data": {"name": "curves"}, "transform": [{"filter": "datum.c == 'Peru'"}],
              "encoding": {"x": {"field": "x", "type": "quantitative", "scale": {"domain": [0, 1], "nice": false}, "title": null}},
              "layer": [
                {"mark": {"type": "area", "fill": "#efefb8", "opacity": 0.55, "clip": true},
                 "encoding": {"y": {"field": "lo", "type": "quantitative", "scale": {"domain": [-0.405, -0.093], "nice": false, "zero": false}, "title": "Effects on e(efficiency|0<efficiency<1)"}, "y2": {"field": "hi"}, "detail": {"field": "yr"}}},
                {"data": {"name": "cuts"}, "transform": [{"filter": "datum.c == 'Peru'"}],
                 "mark": {"type": "rule", "strokeDash": [5, 3], "strokeWidth": 1.3},
                 "encoding": {"stroke": {"condition": {"test": "datum.yr == 'year=2018'", "value": "#aaaaaa"}, "value": "#555555"}}},
                {"mark": {"type": "line", "strokeWidth": 2, "interpolate": "monotone", "clip": true},
                 "encoding": {"y": {"field": "y", "type": "quantitative", "scale": {"domain": [-0.405, -0.093], "nice": false, "zero": false}, "title": "Effects on e(efficiency|0<efficiency<1)"},
                   "color": {"field": "yr", "type": "nominal", "title": null, "scale": {"domain": ["year=2018", "year=2022"], "range": ["#ababab", "#000000"]}}}}
              ]
            },
            {
              "title": "Uruguay", "width": 66, "height": 122,
              "data": {"name": "curves"}, "transform": [{"filter": "datum.c == 'Uruguay'"}],
              "encoding": {"x": {"field": "x", "type": "quantitative", "scale": {"domain": [0, 1], "nice": false}, "title": null}},
              "layer": [
                {"mark": {"type": "area", "fill": "#efefb8", "opacity": 0.55, "clip": true},
                 "encoding": {"y": {"field": "lo", "type": "quantitative", "scale": {"domain": [-0.405, -0.093], "nice": false, "zero": false}, "title": "Effects on e(efficiency|0<efficiency<1)"}, "y2": {"field": "hi"}, "detail": {"field": "yr"}}},
                {"data": {"name": "cuts"}, "transform": [{"filter": "datum.c == 'Uruguay'"}],
                 "mark": {"type": "rule", "strokeDash": [5, 3], "strokeWidth": 1.3},
                 "encoding": {"stroke": {"condition": {"test": "datum.yr == 'year=2018'", "value": "#aaaaaa"}, "value": "#555555"}}},
                {"mark": {"type": "line", "strokeWidth": 2, "interpolate": "monotone", "clip": true},
                 "encoding": {"y": {"field": "y", "type": "quantitative", "scale": {"domain": [-0.405, -0.093], "nice": false, "zero": false}, "title": "Effects on e(efficiency|0<efficiency<1)"},
                   "color": {"field": "yr", "type": "nominal", "title": null, "scale": {"domain": ["year=2018", "year=2022"], "range": ["#ababab", "#000000"]}}}}
              ]
            }
          ]
        }
      ]
    }
  ],
  "config": {
    "view": {"stroke": null},
    "font": "Liberation Sans",
    "title": {"font": "Liberation Sans", "fontSize": 11.5, "fontWeight": "normal", "anchor": "middle", "frame": "bounds", "offset": 5, "color": "#111111"},
    "axis": {"grid": true, "gridDash": [1, 2], "gridColor": "#c4c4c4", "gridWidth": 0.8, "domainColor": "#8a8a8a", "tickColor": "#8a8a8a", "tickSize": 3, "labelColor": "#333333", "labelFont": "Liberation Sans", "titleFont": "Liberation Sans", "titleFontWeight": "normal", "titleColor": "#333333"},
    "axisY": {"tickCount": 7, "labelExpr": "replace('' + datum.value, '0.', '.')", "labelFontSize": 7.5, "titleFontSize": 7, "titlePadding": 8, "labelPadding": 1.5, "offset": 4},
    "axisX": {"tickCount": 10, "labelExpr": "replace('' + datum.value, '0.', '.')", "labelFontSize": 7.5, "labelOverlap": false, "labelPadding": 1, "offset": 3, "labelFlush": false},
    "legend": {"orient": "none", "legendX": 186, "legendY": 340, "direction": "horizontal", "symbolType": "stroke", "symbolStrokeWidth": 3, "symbolSize": 380, "labelFont": "Liberation Sans", "labelFontSize": 11, "labelColor": "#222222", "columnPadding": 26}
  }
}
